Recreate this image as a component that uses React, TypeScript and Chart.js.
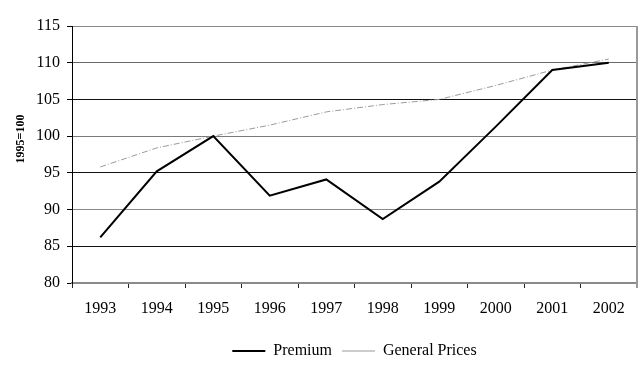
import React, { useEffect, useRef } from "react";
import { Chart, registerables } from "chart.js";

Chart.register(...registerables);

const years = ["1993", "1994", "1995", "1996", "1997", "1998", "1999", "2000", "2001", "2002"];
const premium = [86.2, 95.2, 100.0, 91.9, 94.1, 88.7, 93.8, 101.3, 109.0, 110.0];
const generalPrices = [95.8, 98.4, 100.0, 101.5, 103.3, 104.3, 105.0, 106.9, 109.0, 110.5];
const yTitle = "1995=100";
const yMin = 80;
const yMax = 115;
const yStep = 5;

const FONT = "'Liberation Serif', 'Times New Roman', serif";

const gridColors: Record<number, string> = {
  115: "#8a8a8a",
  110: "#6a6a6a",
  105: "#111111",
  100: "#7a7a7a",
  95: "#111111",
  90: "#8a8a8a",
  85: "#111111",
  80: "#8a8a8a",
};

const extras = {
  id: "extras",
  afterDraw(chart: any) {
    const { ctx, chartArea } = chart;
    ctx.save();
    // right frame line
    ctx.strokeStyle = "#9a9a9a";
    ctx.lineWidth = 2;
    ctx.beginPath();
    ctx.moveTo(chartArea.right, chartArea.top);
    ctx.lineTo(chartArea.right, chartArea.bottom + 5);
    ctx.stroke();
    // y axis title
    ctx.fillStyle = "#000";
    ctx.font = `bold 12px ${FONT}`;
    ctx.textAlign = "center";
    ctx.textBaseline = "middle";
    ctx.translate(21, 139);
    ctx.rotate(-Math.PI / 2);
    ctx.fillText(yTitle, 0, 0);
    ctx.restore();
  },
};

export default function App() {
  const ref = useRef<HTMLCanvasElement | null>(null);
  useEffect(() => {
    if (!ref.current) return;
    const chart = new Chart(ref.current, {
      type: "line",
      data: {
        labels: years,
        datasets: [
          {
            label: "Premium",
            data: premium,
            borderColor: "#000000",
            backgroundColor: "#000000",
            borderWidth: 2,
            pointRadius: 0,
            tension: 0,
          },
          {
            label: "General Prices",
            data: generalPrices,
            borderColor: "#9a9a9a",
            backgroundColor: "#9a9a9a",
            borderWidth: 1,
            borderDash: [6, 2, 1, 2],
            pointRadius: 0,
            tension: 0,
          },
        ],
      },
      options: {
        animation: false,
        responsive: false,
        maintainAspectRatio: false,
        layout: { padding: { left: 0, right: 3, top: 26, bottom: -3 } },
        plugins: {
          tooltip: { enabled: false },
          legend: {
            position: "bottom",
            fullSize: false,
            labels: {
              usePointStyle: true,
              pointStyle: "line",
              pointStyleWidth: 33,
              boxWidth: 33,
              color: "#000",
              padding: 10,
              font: { family: FONT, size: 16 },
            },
          },
        },
        scales: {
          x: {
            type: "category",
            offset: true,
            grid: {
              display: true,
              offset: true,
              drawOnChartArea: false,
              drawTicks: true,
              tickLength: 5,
              color: "#222",
            },
            border: { display: true, color: "#8a8a8a", width: 2 },
            ticks: {
              color: "#000",
              font: { family: FONT, size: 16 },
              padding: 11,
              maxRotation: 0,
            },
            afterFit(scale: any) {
              scale.height = 50;
            },
          },
          y: {
            min: yMin,
            max: yMax,
            ticks: {
              stepSize: yStep,
              color: "#000",
              font: { family: FONT, size: 16 },
              padding: 7,
            },
            grid: {
              color: (ctx: any) => gridColors[ctx.tick?.value] ?? "#444",
              lineWidth: 1,
              tickLength: 5,
              tickColor: "#000",
            },
            border: { display: true, color: "#000", width: 1 },
            afterFit(scale: any) {
              scale.width = 72;
            },
          },
        },
      },
      plugins: [extras],
    });
    return () => chart.destroy();
  }, []);
  return (
    <div style={{ position: "fixed", left: 0, top: 0, width: 640, height: 366, background: "#fff" }}>
      <canvas ref={ref} width={640} height={366} style={{ display: "block" }} />
    </div>
  );
}
